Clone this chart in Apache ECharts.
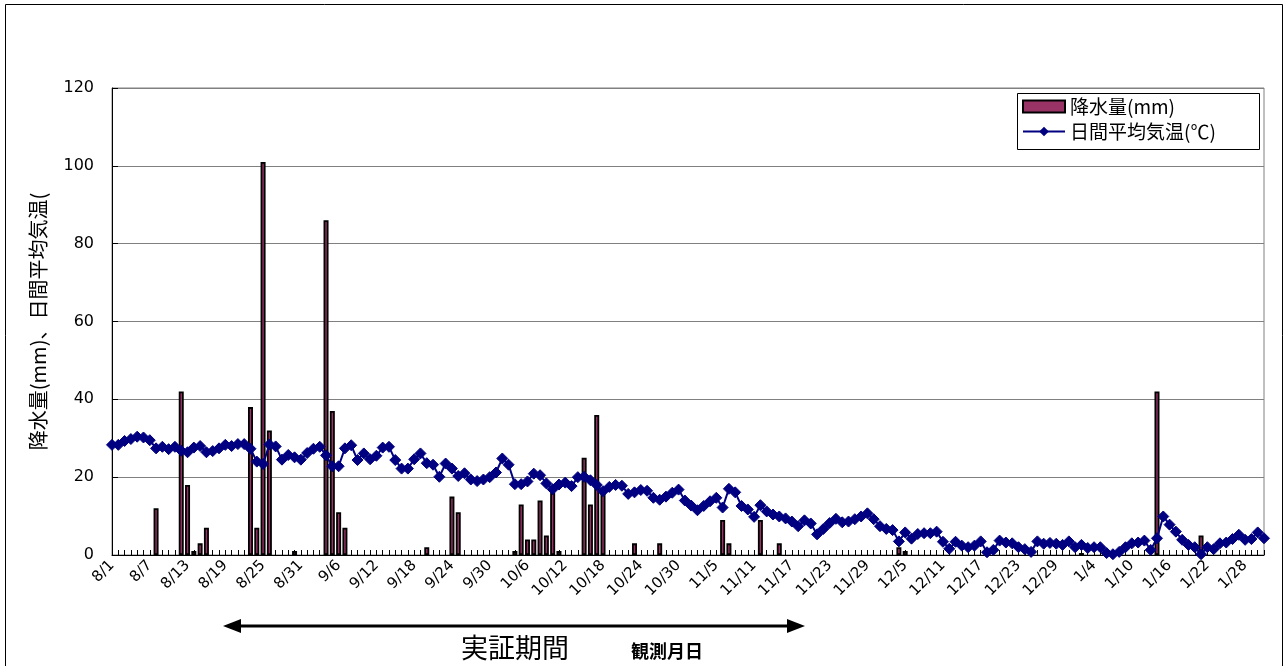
<!DOCTYPE html>
<html>
<head>
<meta charset="utf-8">
<script src="https://cdn.jsdelivr.net/npm/echarts@6/dist/echarts.min.js"></script>
<style>
html,body{margin:0;padding:0;background:#fff;}
#chart{width:1288px;height:666px;}
</style>
</head>
<body>
<div id="chart"></div>
<script>
// Dates 8/1 .. 1/31
const monthDays = [[8,31],[9,30],[10,31],[11,30],[12,31],[1,31]];
const categories = [];
monthDays.forEach(function(m){ for (let d=1; d<=m[1]; d++) categories.push(m[0] + '/' + d); });

// 日間平均気温 (℃)
const temperature = [
28.3,28.3,29.3,29.8,30.4,30.2,29.5,27.4,27.8,27.2,27.8,26.8,26.4,27.6,28.0,26.4,26.7,27.4,28.3,28.0,
28.5,28.5,27.3,24.0,23.4,28.4,27.9,24.5,25.7,25.1,24.5,26.2,27.3,27.8,25.6,22.8,22.8,27.4,28.2,24.4,
26.1,24.6,25.5,27.6,27.8,24.4,22.2,22.2,24.6,26.1,23.6,23.2,20.1,23.5,22.2,20.3,21.0,19.4,19.0,19.4,
20.0,21.2,24.8,23.2,18.2,18.2,18.9,20.9,20.5,18.4,16.9,18.1,18.6,17.7,20.0,20.1,19.2,18.0,16.4,17.5,
18.0,17.8,15.7,16.1,16.7,16.5,14.7,14.2,15.0,16.0,16.8,14.0,12.7,11.5,12.6,13.8,14.7,12.2,17.0,16.1,
12.6,11.7,9.8,12.8,11.2,10.4,9.9,9.4,8.6,7.4,8.9,8.1,5.3,6.7,8.2,9.3,8.4,8.6,9.2,9.9,
10.7,9.2,7.4,6.7,6.4,3.5,5.8,4.2,5.4,5.6,5.6,6.0,3.4,1.6,3.4,2.4,2.0,2.4,3.5,0.7,
1.3,3.7,3.2,3.0,2.0,1.5,0.8,3.5,2.9,3.1,2.9,2.6,3.5,2.0,2.6,1.8,2.0,2.0,0.5,0.2,
0.8,2.0,3.0,3.2,3.7,1.3,4.3,9.9,7.8,6.0,3.9,2.6,2.0,0.2,2.0,1.5,3.0,3.2,4.1,5.2,
3.9,4.1,5.8,4.3
];

// 降水量 (mm)
const precipitation = [
0,0,0,0,0,0,0,12,0,0,0,42,18,1,3,7,0,0,0,0,
0,0,38,7,101,32,0,0,0,1,0,0,0,0,86,37,11,7,0,0,
0,0,0,0,0,0,0,0,0,0,2,0,0,0,15,11,0,0,0,0,
0,0,0,0,1,13,4,4,14,5,16,1,0,0,0,25,13,36,17,0,
0,0,0,3,0,0,0,3,0,0,0,0,0,0,0,0,0,9,3,0,
0,0,0,9,0,0,3,0,0,0,0,0,0,0,0,0,0,0,0,0,
0,0,0,0,0,2,1,0,0,0,0,0,0,0,0,0,0,0,0,0,
0,0,0,0,0,0,0,0,0,0,0,0,0,0,0.5,0,0,0,0,0,
0,0,0,0,0,0,42,0,0,0,0,0,0,5,0,0,0,0,0,0,
0,0,0,0
];

const yTicks = { min: 0, max: 120, interval: 20 };
const seriesNames = ['降水量(mm)', '日間平均気温(℃)'];

const FONT = "'DejaVu Sans', 'Noto Sans CJK JP', sans-serif";
const JFONT = "'Noto Sans CJK JP', 'DejaVu Sans', sans-serif";
const chart = echarts.init(document.getElementById('chart'), null, { renderer: 'canvas' });

const option = {
  backgroundColor: '#ffffff',
  animation: false,
  textStyle: { fontFamily: FONT, color: '#000' },
  grid: { left: 112, right: 24, top: 88, bottom: 111, show: true, borderColor: '#808080', borderWidth: 1 },
  legend: {
    left: 1022, top: 97, orient: 'vertical', itemGap: 6,
    itemWidth: 42, itemHeight: 12, padding: 0,
    textStyle: { fontSize: 19, fontFamily: JFONT, color: '#000' },
    data: [
      { name: seriesNames[0], icon: 'rect' },
      { name: seriesNames[1] }
    ]
  },
  xAxis: {
    type: 'category',
    data: categories,
    boundaryGap: false,
    axisLine: { lineStyle: { color: '#000', width: 1 } },
    axisTick: { show: true, inside: true, length: 5, interval: 0, lineStyle: { color: '#000' } },
    axisLabel: { interval: 5, rotate: 45, fontSize: 15, color: '#000', margin: 8, fontFamily: FONT },
    splitLine: { show: false }
  },
  yAxis: {
    type: 'value',
    min: yTicks.min, max: yTicks.max, interval: yTicks.interval,
    name: '降水量(mm)、日間平均気温(',
    nameLocation: 'middle', nameGap: 64, nameRotate: 90,
    nameTextStyle: { fontSize: 20, color: '#000', fontFamily: JFONT },
    axisLine: { show: true, lineStyle: { color: '#000' } },
    axisTick: { show: true, inside: true, length: 6, lineStyle: { color: '#000' } },
    axisLabel: { fontSize: 16, color: '#000', margin: 18, fontFamily: FONT },
    splitLine: { show: true, lineStyle: { color: '#808080', width: 1 } }
  },
  series: [
    {
      name: seriesNames[0],
      type: 'bar',
      data: precipitation.map(function(v){ return v === 0 ? '-' : v; }),
      barWidth: 5,
      itemStyle: { color: '#993366', borderColor: '#000', borderWidth: 1.8 },
      z: 2
    },
    {
      name: seriesNames[1],
      type: 'line',
      data: temperature,
      symbol: 'diamond',
      symbolSize: [11, 11],
      showAllSymbol: true,
      lineStyle: { color: '#000080', width: 2 },
      itemStyle: { color: '#000080', borderColor: '#000080' },
      z: 3
    }
  ],
  graphic: [
    { type: 'rect', shape: { x: 5.5, y: 4.5, width: 1277, height: 700 }, style: { fill: 'none', stroke: '#000', lineWidth: 1 }, silent: true, z: 0 },
    { type: 'rect', shape: { x: 1017.5, y: 93.5, width: 242, height: 56 }, style: { fill: '#fff', stroke: '#000', lineWidth: 1 }, silent: true, z: 0 },
    { type: 'line', shape: { x1: 236, y1: 626, x2: 792, y2: 626 }, style: { stroke: '#000', lineWidth: 3 }, silent: true },
    { type: 'polygon', shape: { points: [[223,626],[241,619],[241,633]] }, style: { fill: '#000' }, silent: true },
    { type: 'polygon', shape: { points: [[805,626],[787,619],[787,633]] }, style: { fill: '#000' }, silent: true },
    { type: 'text', x: 515, y: 648, style: { text: '実証期間', font: "27px 'Noto Sans CJK JP'", fill: '#000', textAlign: 'center', textVerticalAlign: 'middle' }, silent: true },
    { type: 'text', x: 667, y: 651, style: { text: '観測月日', font: "bold 18px 'Noto Sans CJK JP'", fill: '#000', textAlign: 'center', textVerticalAlign: 'middle' }, silent: true }
  ]
};
chart.setOption(option);
</script>
</body>
</html>
